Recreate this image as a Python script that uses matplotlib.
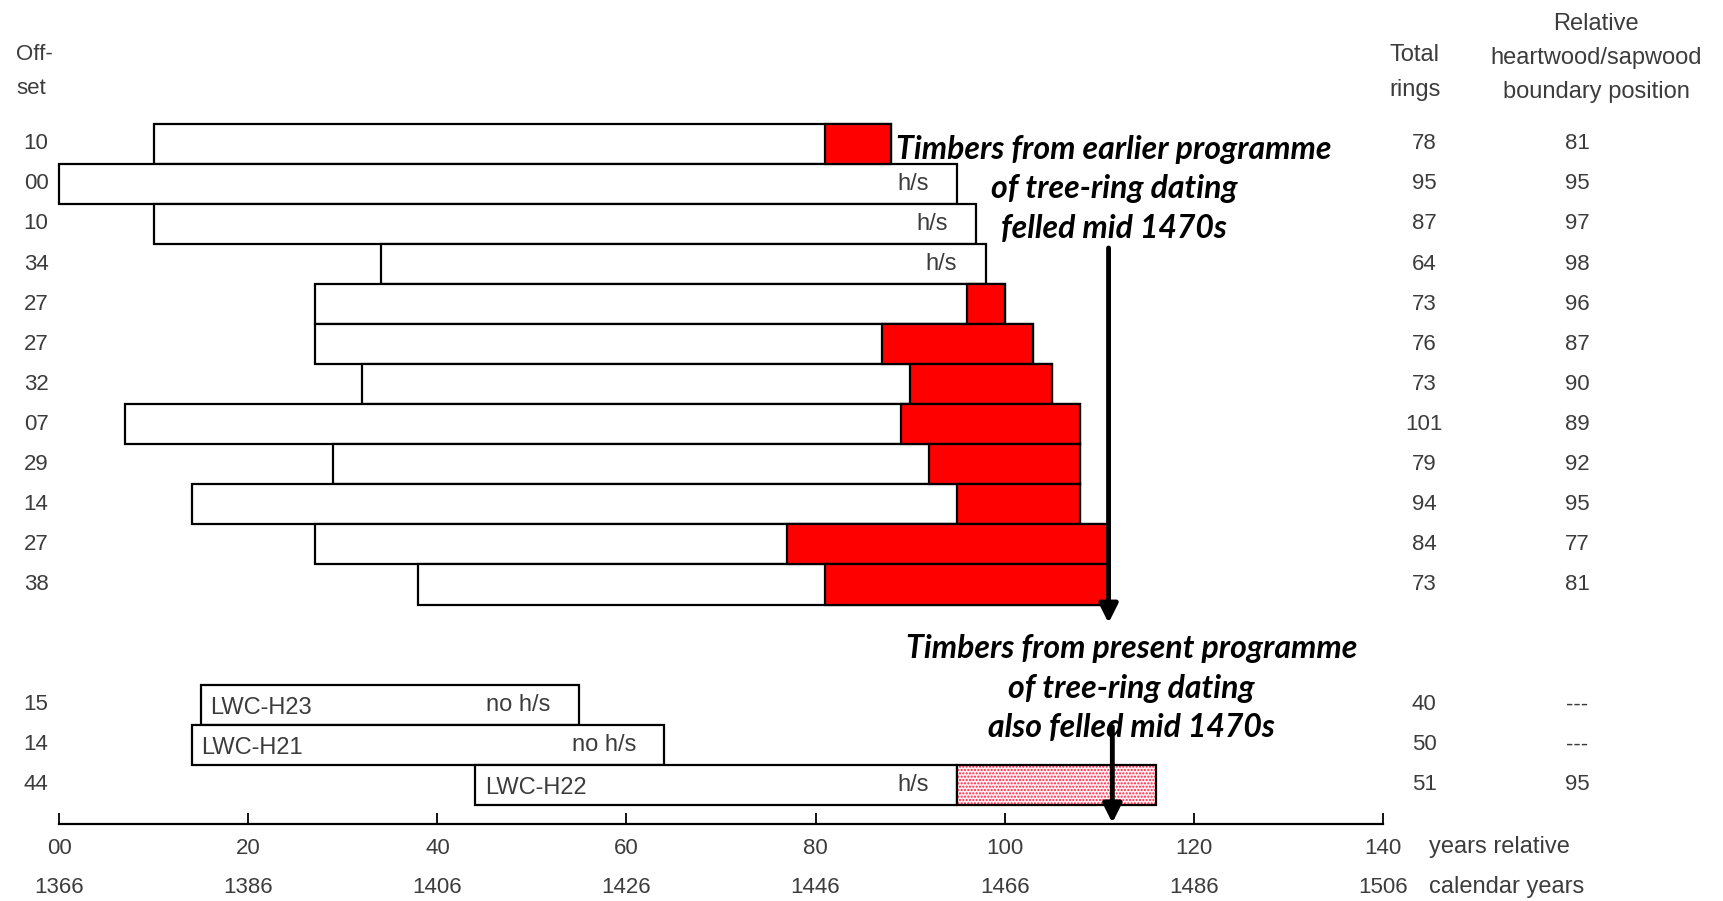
import matplotlib.pyplot as plt

# tree-ring sample bars (relative years, 00 = 1366)
offset_txt = ['10', '00', '10', '34', '27', '27', '32', '07', '29', '14', '27', '38',
              '15', '14', '44']
offsets = [10, 0, 10, 34, 27, 27, 32, 7, 29, 14, 27, 38, 15, 14, 44]
total_rings = [78, 95, 87, 64, 73, 76, 73, 101, 79, 94, 84, 73, 40, 50, 51]
hs_boundary = [81, 95, 97, 98, 96, 87, 90, 89, 92, 95, 77, 81, None, None, 95]
hs_txt = ['81', '95', '97', '98', '96', '87', '90', '89', '92', '95', '77', '81',
          '---', '---', '95']
sample_ids = [''] * 12 + ['LWC-H23', 'LWC-H21', 'LWC-H22']
bar_notes = ['', 'h/s', 'h/s', 'h/s', '', '', '', '', '', '', '', '',
             'no h/s', 'no h/s', 'h/s']
est_sapwood_end = 116  # estimated sapwood for LWC-H22
felling = 111          # mid 1470s, relative year

note_early = ['Timbers from earlier programme', 'of tree-ring dating',
              'felled mid 1470s']
note_present = ['Timbers from present programme', 'of tree-ring dating',
                'also felled mid 1470s']

rel_ticks = [0, 20, 40, 60, 80, 100, 120, 140]
rel_labels = ['00', '20', '40', '60', '80', '100', '120', '140']
first_year = 1366

plt.rcParams['font.family'] = ['Liberation Sans', 'DejaVu Sans']
txt_col = '#3c3c3c'
fs = 16      # numbers
fs_w = 17    # words

fig = plt.figure(figsize=(17.23, 9.01), dpi=100)
ax = fig.add_axes([0, 0, 1, 1])
ax.set_xlim(-6.27, 176.0)
ax.set_ylim(19.9, -2.59)

# rows: 12 earlier timbers, gap, 3 present ones
rows = list(range(1, 13)) + [15, 16, 17]
ends = [o + n for o, n in zip(offsets, total_rings)]

ax.barh(rows, total_rings, left=offsets, height=1, color='white',
        edgecolor='black', linewidth=1.6)

for r, e, hs in zip(rows[:12], ends[:12], hs_boundary[:12]):
    if hs < e:
        ax.barh(r, e - hs, left=hs, height=1, color='red', edgecolor='black',
                linewidth=1.6)

# estimated sapwood on LWC-H22 (dotted)
r, e = rows[-1], ends[-1]
ax.barh(r, est_sapwood_end - e, left=e, height=1, color='#fff0f3',
        edgecolor='#ff2040', hatch='.....', linewidth=0)
ax.barh(r, est_sapwood_end - e, left=e, height=1, fill=False,
        edgecolor='black', linewidth=1.6)

for r, o, e, sid, note in zip(rows, offsets, ends, sample_ids, bar_notes):
    if sid:
        ax.text(o + 1.0, r + 0.08, sid, ha='left', va='center', fontsize=fs_w,
                color=txt_col)
    if note:
        ax.text(e - 3.0, r, note, ha='right', va='center', fontsize=fs_w,
                color=txt_col)

# side columns
for r, t, n, h in zip(rows, offset_txt, total_rings, hs_txt):
    ax.text(-2.45, r, t, ha='center', va='center', fontsize=fs, color=txt_col)
    ax.text(144.4, r, str(n), ha='center', va='center', fontsize=fs, color=txt_col)
    ax.text(160.6, r, h, ha='center', va='center', fontsize=fs, color=txt_col)

ax.text(-4.55, -1.22, 'Off-', ha='left', va='center', fontsize=fs, color=txt_col)
ax.text(-4.55, -0.37, 'set', ha='left', va='center', fontsize=fs, color=txt_col)
ax.text(143.4, -1.22, 'Total', ha='center', va='center', fontsize=fs_w, color=txt_col)
ax.text(143.4, -0.35, 'rings', ha='center', va='center', fontsize=fs_w, color=txt_col)
ax.text(162.6, -2.0, 'Relative', ha='center', va='center', fontsize=fs_w,
        color=txt_col)
ax.text(162.6, -1.15, 'heartwood/sapwood', ha='center', va='center', fontsize=fs_w,
        color=txt_col)
ax.text(162.6, -0.3, 'boundary position', ha='center', va='center', fontsize=fs_w,
        color=txt_col)

# notes and arrows
note_font = dict(family=['Lato', 'DejaVu Sans'], weight='bold', style='italic',
                 fontsize=23, ha='center', va='center', color='black')
for i, line in enumerate(note_early):
    ax.text(111.6, 1.13 + i * 0.99, line, **note_font)
for i, line in enumerate(note_present):
    ax.text(113.4, 13.6 + i * 0.99, line, **note_font)

arrow = dict(arrowstyle='-|>', color='black', lw=3.5, mutation_scale=28,
             shrinkA=0, shrinkB=0)
ax.annotate('', xy=(felling, 12.96), xytext=(felling, 3.6), arrowprops=arrow)
ax.annotate('', xy=(felling + 0.4, 17.95), xytext=(felling + 0.4, 15.55),
            arrowprops=arrow)

# x axis
for s in ['top', 'left', 'right']:
    ax.spines[s].set_visible(False)
ax.spines['bottom'].set_position(('data', 17.98))
ax.spines['bottom'].set_bounds(0, 140)
ax.spines['bottom'].set_linewidth(1.6)
ax.set_yticks([])
ax.set_xticks(rel_ticks, labels=rel_labels)
ax.tick_params(axis='x', direction='in', length=8, width=1.3, labelsize=fs,
               labelcolor=txt_col, pad=10)

yr_axis = ax.secondary_xaxis(1.95 / 22.49, functions=(lambda x: x + first_year,
                                                     lambda x: x - first_year))
yr_axis.set_xticks([t + first_year for t in rel_ticks])
yr_axis.spines['bottom'].set_visible(False)
yr_axis.tick_params(length=0, labelsize=fs, labelcolor=txt_col, pad=39)

ax.text(144.9, 18.54, 'years relative', ha='left', va='center', fontsize=fs_w,
        color=txt_col)
ax.text(144.9, 19.56, 'calendar years', ha='left', va='center', fontsize=fs_w,
        color=txt_col)

fig.savefig('out.png', dpi=100)
